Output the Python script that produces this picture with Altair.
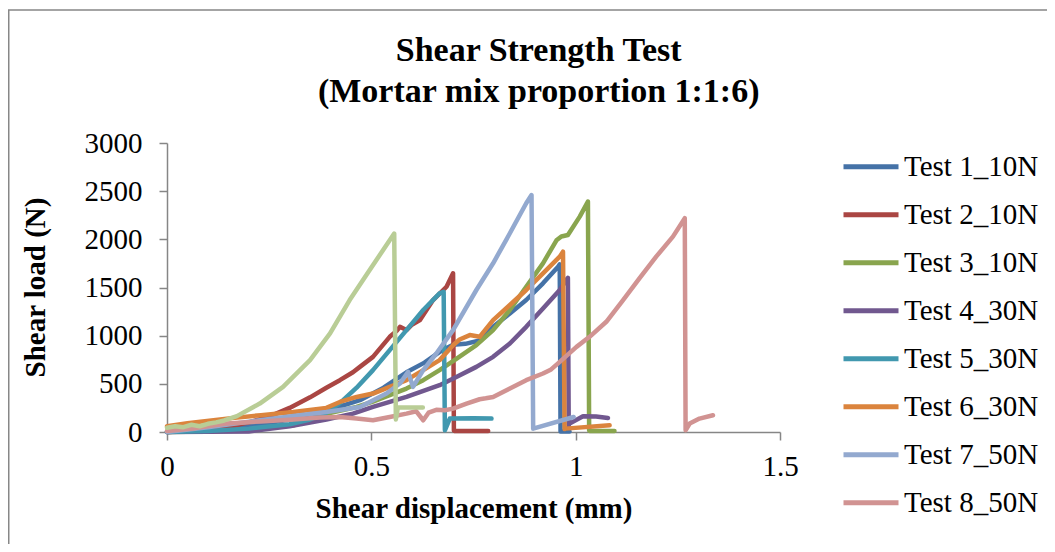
import altair as alt
import pandas as pd

# ---- data (shear displacement mm, shear load N) ----
t1_x = [0, 0.10, 0.20, 0.30, 0.39, 0.472, 0.53, 0.586, 0.63, 0.67, 0.70, 0.73, 0.765, 0.798, 0.839, 0.879, 0.920, 0.957, 0.961, 0.963, 0.985]
t1_y = [0, 20, 60, 130, 220, 330, 460, 620, 720, 840, 905, 915, 950, 1092, 1231, 1370, 1543, 1716, 1740, 5, 5]

t2_x = [0, 0.08, 0.15, 0.20, 0.25, 0.30, 0.35, 0.39, 0.423, 0.455, 0.472, 0.504, 0.545, 0.562, 0.570, 0.586, 0.598, 0.619, 0.651, 0.684, 0.700, 0.702, 0.705, 0.786]
t2_y = [0, 15, 50, 100, 160, 250, 360, 460, 538, 620, 676, 780, 988, 1050, 1092, 1058, 1110, 1162, 1370, 1508, 1647, 15, 10, 10]

t3_x = [0, 0.10, 0.20, 0.31, 0.39, 0.464, 0.504, 0.545, 0.586, 0.627, 0.667, 0.708, 0.757, 0.798, 0.839, 0.879, 0.920, 0.953, 0.965, 0.981, 1.010, 1.030, 1.033, 1.036, 1.095]
t3_y = [0, 5, 25, 70, 190, 260, 315, 382, 451, 538, 642, 760, 902, 1058, 1266, 1508, 1751, 1990, 2030, 2045, 2236, 2392, 15, 10, 10]

t4_x = [0, 0.20, 0.227, 0.30, 0.39, 0.455, 0.504, 0.586, 0.667, 0.708, 0.757, 0.798, 0.839, 0.879, 0.920, 0.961, 0.977, 0.981, 0.983, 0.985, 1.018, 1.05, 1.079]
t4_y = [0, 5, 20, 60, 130, 191, 260, 364, 486, 572, 676, 780, 919, 1092, 1283, 1474, 1578, 1600, 70, 87, 163, 160, 146]

t5_x = [0, 0.10, 0.20, 0.30, 0.35, 0.39, 0.423, 0.464, 0.504, 0.545, 0.586, 0.627, 0.667, 0.677, 0.680, 0.692, 0.75, 0.794]
t5_y = [0, 10, 35, 80, 130, 200, 300, 460, 642, 850, 1058, 1266, 1439, 1456, 18, 139, 142, 139]

t6_x = [0, 0.05, 0.146, 0.23, 0.309, 0.39, 0.423, 0.464, 0.504, 0.586, 0.627, 0.667, 0.70, 0.716, 0.741, 0.765, 0.798, 0.839, 0.879, 0.920, 0.961, 0.969, 0.973, 0.975, 1.083]
t6_y = [60, 90, 139, 175, 208, 250, 312, 364, 399, 538, 642, 746, 900, 960, 1006, 988, 1162, 1318, 1474, 1647, 1820, 1872, 30, 35, 70]

t7_x = [0, 0.10, 0.227, 0.30, 0.39, 0.472, 0.537, 0.570, 0.590, 0.602, 0.627, 0.659, 0.700, 0.757, 0.798, 0.839, 0.879, 0.892, 0.896, 0.995]
t7_y = [0, 50, 122, 160, 208, 260, 399, 503, 624, 468, 642, 815, 1058, 1474, 1751, 2063, 2375, 2460, 35, 156]

t8_x = [0, 0.07, 0.146, 0.23, 0.309, 0.374, 0.423, 0.464, 0.504, 0.545, 0.586, 0.610, 0.627, 0.640, 0.659, 0.68, 0.700, 0.733, 0.765, 0.78, 0.798, 0.839, 0.879, 0.920, 0.94, 0.961, 1.002, 1.034, 1.075, 1.116, 1.156, 1.197, 1.238, 1.267, 1.269, 1.279, 1.303, 1.336]
t8_y = [10, 40, 87, 110, 129, 150, 156, 139, 122, 156, 191, 215, 122, 200, 230, 226, 243, 295, 340, 350, 364, 451, 538, 607, 650, 728, 884, 988, 1144, 1370, 1595, 1820, 2028, 2219, 18, 87, 139, 174]

t9_x = [0, 0.02, 0.04, 0.06, 0.08, 0.10, 0.12, 0.14, 0.171, 0.227, 0.284, 0.350, 0.399, 0.447, 0.496, 0.556, 0.560, 0.565, 0.626]
t9_y = [45, 60, 50, 75, 60, 85, 100, 120, 165, 295, 468, 746, 1023, 1370, 1682, 2060, 130, 255, 255]

series_names = ["Test 1_10N", "Test 2_10N", "Test 3_10N", "Test 4_30N", "Test 5_30N",
                "Test 6_30N", "Test 7_50N", "Test 8_50N", "Test 9_50N"]
series_colors = ["#4572A7", "#AA4643", "#89A54E", "#71588F", "#4198AF",
                 "#DB843D", "#93A9CF", "#D19392", "#B9CD96"]
legend_names = series_names[:8]

title_lines = ["Shear Strength Test", "(Mortar mix proportion 1:1:6)"]
x_title = "Shear displacement (mm)"
y_title = "Shear load (N)"

x_ticks = [0, 0.5, 1, 1.5]
y_ticks = [0, 500, 1000, 1500, 2000, 2500, 3000]

all_x = [t1_x, t2_x, t3_x, t4_x, t5_x, t6_x, t7_x, t8_x, t9_x]
all_y = [t1_y, t2_y, t3_y, t4_y, t5_y, t6_y, t7_y, t8_y, t9_y]

rows = []
for name, xs, ys in zip(series_names, all_x, all_y):
    for i, (a, b) in enumerate(zip(xs, ys)):
        rows.append({"series": name, "idx": i, "disp": a, "load": b})
df = pd.DataFrame(rows)
one = pd.DataFrame({"f": [0]})

FONT = "Liberation Serif"
GRAY = "#868686"

# outer chart frame (decoration)
frame = alt.Chart(one).mark_rect(
    fill="transparent", stroke="#878787", strokeWidth=1.5
).encode(
    x=alt.value(-158.25), x2=alt.value(1500),
    y=alt.value(-133), y2=alt.value(1000)
)

title1 = alt.Chart(one).mark_text(
    text=title_lines[0], font=FONT, fontSize=34, fontWeight="bold", color="black",
    align="center", baseline="alphabetic"
).encode(x=alt.value(371.7), y=alt.value(-82))

title2 = alt.Chart(one).mark_text(
    text=title_lines[1], font=FONT, fontSize=34, fontWeight="bold", color="black",
    align="center", baseline="alphabetic"
).encode(x=alt.value(371.7), y=alt.value(-41.5))

lines = alt.Chart(df).mark_line(strokeWidth=4.5, strokeCap="round", strokeJoin="round").encode(
    x=alt.X("disp:Q",
            scale=alt.Scale(domain=[0, 1.5], nice=False, zero=False),
            axis=alt.Axis(values=x_ticks, format="~g", title=x_title,
                          titleY=85, titleBaseline="alphabetic", labelFlush=False,
                          tickSize=8, labelPadding=12, labelFont=FONT, titleFont=FONT)),
    y=alt.Y("load:Q",
            scale=alt.Scale(domain=[0, 3000], nice=False),
            axis=alt.Axis(values=y_ticks, format="d", title=y_title,
                          titleAngle=270, titleX=-123, titleY=144,
                          titleAlign="center", titleBaseline="alphabetic",
                          tickSize=8, labelPadding=17, labelFont=FONT, titleFont=FONT)),
    color=alt.Color("series:N",
                    scale=alt.Scale(domain=series_names, range=series_colors),
                    legend=alt.Legend(values=legend_names, title=None, orient="none",
                                      legendX=674, legendY=8.7, symbolType="stroke",
                                      symbolSize=3025, symbolStrokeWidth=5,
                                      clipHeight=30, rowPadding=18, labelOffset=3,
                                      padding=0, labelFont=FONT, labelFontSize=29,
                                      labelColor="black", labelLimit=300)),
    order=alt.Order("idx:Q"),
)

chart = alt.layer(frame, lines, title1, title2).properties(
    width=613, height=289,
    padding={"left": 159, "top": 135, "right": 267, "bottom": 112},
    autosize=alt.AutoSizeParams(type="none"),
).configure(
    font=FONT
).configure_view(
    stroke="transparent"
).configure_axis(
    labelFont=FONT, titleFont=FONT, labelFontSize=29, titleFontSize=29,
    titleFontWeight="bold", labelColor="black", titleColor="black",
    domainColor=GRAY, tickColor=GRAY, domainWidth=1.5, tickWidth=1.5, grid=False
).configure_legend(
    labelFont=FONT
)

chart.save("out.html", embed_options={"renderer": "svg", "actions": False})
